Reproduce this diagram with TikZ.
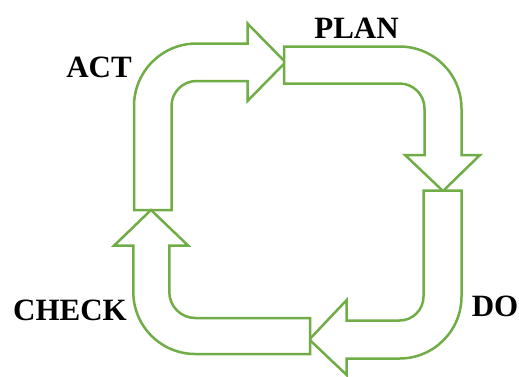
\documentclass[tikz,border=0pt]{standalone}
\usepackage{fontspec}
\setmainfont{Liberation Serif}
\definecolor{pdcagreen}{HTML}{70AD47}
\begin{document}
\begin{tikzpicture}[x=1pt,y=1pt,
  blockarrow/.style={draw=pdcagreen,line width=2.5pt,line join=miter,fill=white},
  lab/.style={font=\fontsize{31}{31}\selectfont\bfseries,anchor=base,inner sep=0pt}]
\useasboundingbox (0,0) rectangle (519,-376);
% ACT arrow (up, then right)
\draw[blockarrow] (134,-210) -- (134,-106) arc[start angle=180,end angle=90,radius=62.5]
  -- (247.5,-43.5) -- (247.5,-23.5) -- (285.5,-62.25) -- (247.5,-101) -- (247.5,-81)
  -- (196.5,-81) arc[start angle=90,end angle=180,radius=25] -- (171.5,-210) -- cycle;
% PLAN arrow (right, then down)
\draw[blockarrow] (284,-46.5) -- (399.5,-46.5) arc[start angle=90,end angle=0,radius=62]
  -- (461.5,-155) -- (480,-155) -- (443,-191) -- (405,-155) -- (424.5,-155)
  -- (424.5,-108.5) arc[start angle=0,end angle=90,radius=25] -- (284,-83.5) -- cycle;
% DO arrow (down, then left)
\draw[blockarrow] (461.5,-190.5) -- (461.5,-296.5) arc[start angle=0,end angle=-90,radius=62]
  -- (346.7,-358.5) -- (346.7,-375) -- (309.3,-339.5) -- (346.7,-300) -- (346.7,-320.5)
  -- (399.5,-320.5) arc[start angle=-90,end angle=0,radius=24] -- (423.5,-190.5) -- cycle;
% CHECK arrow (left, then up)
\draw[blockarrow] (310,-354) -- (195.3,-354) arc[start angle=-90,end angle=-180,radius=62]
  -- (133.3,-245.7) -- (114,-245.7) -- (151,-210) -- (188.3,-245.7) -- (169.3,-245.7)
  -- (169.3,-292) arc[start angle=-180,end angle=-90,radius=26] -- (310,-318) -- cycle;
% labels
\node[lab] (act) at (99,-77.3) {ACT};
\node[lab] (plan) at (356.5,-38.3) {PLAN};
\node[lab] (do) at (495,-316) {DO};
\node[lab] (check) at (70,-320) {CHECK};
\end{tikzpicture}
\end{document}
